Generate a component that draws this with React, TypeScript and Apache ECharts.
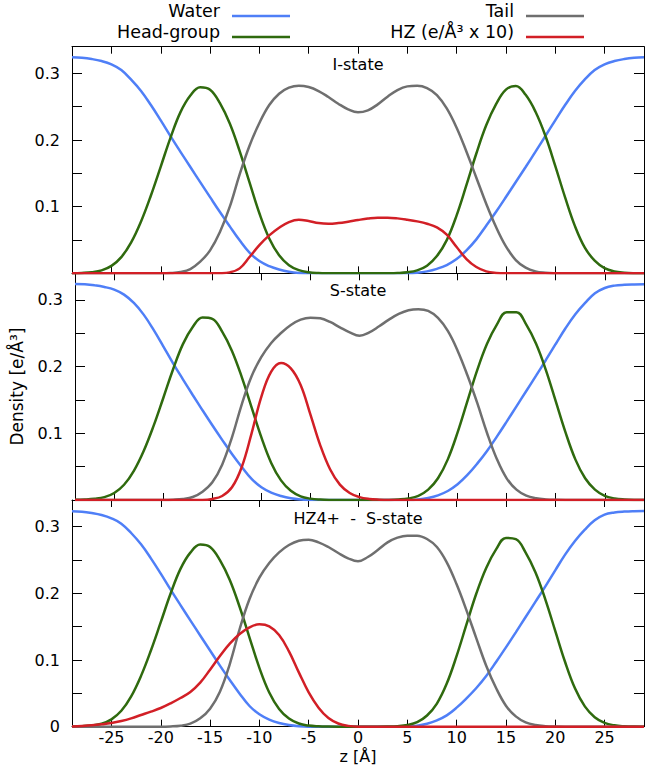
import React, { useEffect, useRef } from "react";
import * as echarts from "echarts";

const FONT = "DejaVu Sans";
const X_TICKS = [-25, -20, -15, -10, -5, 0, 5, 10, 15, 20, 25];
const Y_TICKS = [0.05, 0.1, 0.15, 0.2, 0.25, 0.3];
const Y_LABELS_UPPER = [0.1, 0.2, 0.3];
const Y_LABELS_BOTTOM = [0, 0.1, 0.2, 0.3];
const PANEL_TITLES = ["I-state", "S-state", "HZ4+  -  S-state"];
const SERIES_NAMES = ["Water", "Head-group", "Tail", "HZ (e/Å³ x 10)"];
const COLORS = ["#4f7ff7", "#2f6a0e", "#6f6f6f", "#d21f26"];

// z positions [Å]
const Z = [-29,-28,-27,-26,-25,-24,-23,-22,-21,-20,-19,-18,-17,-16,-15,-14,-13,-12,-11,-10,-9,-8,-7,-6,-5,-4,-3,-2,-1,0,1,2,3,4,5,6,7,8,9,10,11,12,13,14,15,16,17,18,19,20,21,22,23,24,25,26,27,28,29];

// ---- I-state ----
const iWater = [0.324,0.3233,0.3215,0.3185,0.3135,0.305,0.2905,0.2735,0.2525,0.2295, 0.2055,0.1823,0.1595,0.1368,0.1143,0.092,0.0705,0.0495,0.031,0.0185, 0.0108,0.0058,0.0025,0.0007,0,0,0,0,0, 0, 0,0,0,0,0,0.0008,0.003,0.0068,0.0125, 0.0215,0.0345,0.051,0.0715,0.0925,0.1145,0.137,0.1595,0.1825,0.206, 0.2295,0.2525,0.2735,0.291,0.305,0.3135,0.3185,0.3215,0.3233,0.324];
const iHead = [0.0002,0.0007,0.0018,0.0045,0.0112,0.0244,0.0465,0.0778,0.1168,0.1602, 0.2041,0.2419,0.2668,0.2792,0.2755,0.2554,0.2248,0.1834,0.1366,0.0902, 0.0524,0.0272,0.0123,0.0048,0.0017,0.0005,0.0001,0,0, 0, 0,0,0.0001,0.0005,0.0016,0.0045,0.0115,0.0259,0.0498, 0.087,0.1326,0.1798,0.2221,0.2538,0.2757,0.2811,0.2678,0.2424,0.2064, 0.1613,0.114,0.0709,0.0386,0.0191,0.0079,0.0029,0.001,0.0002,0];
const iTail = [0,0,0,0,0,0,0,0,0,0, 0.0004,0.002,0.0065,0.0175,0.0345,0.062,0.1,0.1485,0.1915,0.2255, 0.2525,0.2695,0.2785,0.2815,0.2795,0.2735,0.2645,0.2545,0.246, 0.2415, 0.2445,0.2535,0.265,0.275,0.2805,0.2815,0.278,0.2675,0.2475, 0.2185,0.1825,0.1435,0.1045,0.0695,0.0405,0.02,0.0085,0.003,0.001, 0.0002,0,0,0,0,0,0,0,0,0];
const iHZ = [0,0,0,0,0,0,0,0,0,0, 0,0,0,0,0,0.0002,0.0015,0.0075,0.0245,0.0425, 0.057,0.0685,0.077,0.0805,0.0785,0.0755,0.0745,0.0755,0.0775, 0.08, 0.0822,0.0835,0.0835,0.0825,0.0805,0.078,0.0745,0.069,0.058, 0.0395,0.0215,0.0095,0.003,0.0006,0,0,0,0,0, 0,0,0,0,0,0,0,0,0,0];

// ---- S-state ----
const sWater = [0.324,0.3235,0.322,0.3195,0.3155,0.308,0.2955,0.278,0.2555,0.2305, 0.205,0.181,0.1575,0.1345,0.112,0.0902,0.069,0.0495,0.0315,0.019, 0.011,0.006,0.0026,0.0008,0,0,0,0,0, 0, 0,0,0,0,0,0.0008,0.003,0.007,0.0135, 0.0235,0.0375,0.0545,0.0735,0.095,0.1175,0.1405,0.1635,0.1865,0.21, 0.234,0.2575,0.2785,0.2955,0.31,0.318,0.3215,0.3228,0.3233,0.3235];
const sHead = [0.0002,0.0006,0.0017,0.0042,0.0105,0.0228,0.0437,0.0734,0.1107,0.153, 0.1961,0.2338,0.2595,0.2738,0.2718,0.2525,0.2236,0.1843,0.1389,0.0938, 0.0556,0.0294,0.0138,0.0055,0.002,0.0006,0.0001,0,0, 0, 0,0,0.0001,0.0007,0.0023,0.0062,0.0155,0.0325,0.0609, 0.1014,0.1482,0.1948,0.2343,0.2631,0.2817,0.2817,0.2631,0.2343,0.1948, 0.1482,0.1014,0.0609,0.0325,0.0155,0.0062,0.0023,0.0007,0.0001,0];
const sTail = [0,0,0,0,0,0,0,0,0,0, 0.0004,0.0015,0.0045,0.0125,0.0265,0.053,0.094,0.1435,0.1855,0.2145, 0.2355,0.2505,0.2625,0.2705,0.2735,0.2725,0.267,0.259,0.2515, 0.2465, 0.2515,0.2605,0.2705,0.279,0.2845,0.286,0.2835,0.273,0.2535, 0.224,0.187,0.1455,0.1005,0.0615,0.0325,0.0155,0.0065,0.0025,0.0008, 0.0002,0,0,0,0,0,0,0,0,0];
const sHZ = [0,0,0,0,0,0,0,0,0,0, 0,0,0,0,0.0015,0.006,0.019,0.0495,0.1,0.155, 0.1925,0.2055,0.1975,0.1725,0.128,0.082,0.046,0.023,0.0105, 0.0043, 0.0015,0.0004,0,0,0,0,0,0,0, 0,0,0,0,0,0,0,0,0,0, 0,0,0,0,0,0,0,0,0,0];

// ---- HZ4+ S-state ----
const hWater = [0.323,0.3225,0.3205,0.3175,0.3125,0.3045,0.2905,0.2735,0.2525,0.2295, 0.2055,0.1823,0.1595,0.1368,0.1143,0.0915,0.07,0.0495,0.031,0.0185, 0.0105,0.0055,0.0024,0.0007,0,0,0,0,0, 0, 0,0,0,0,0.0003,0.0015,0.0045,0.0095,0.017, 0.0285,0.0425,0.058,0.076,0.097,0.119,0.1415,0.1645,0.1875,0.2105, 0.2345,0.258,0.2785,0.2955,0.3095,0.318,0.3213,0.3227,0.3233,0.3235];
const hHead = [0.0002,0.0007,0.0018,0.0044,0.011,0.0238,0.0455,0.0762,0.1143,0.1567, 0.1997,0.2367,0.2611,0.2732,0.2696,0.2499,0.22,0.1795,0.1337,0.0882, 0.0512,0.0266,0.0121,0.0047,0.0016,0.0005,0.0001,0,0, 0, 0,0,0.0002,0.0008,0.0025,0.0068,0.0168,0.0347,0.0646, 0.1061,0.1533,0.1997,0.2381,0.2659,0.2831,0.2812,0.2612,0.2313,0.1907, 0.1437,0.097,0.0575,0.0304,0.0142,0.0057,0.002,0.0006,0.0001,0];
const hTail = [0,0,0,0,0,0,0,0,0,0, 0.0004,0.0015,0.0045,0.0125,0.027,0.0525,0.094,0.1465,0.1915,0.2235, 0.2455,0.2615,0.2725,0.279,0.2805,0.2765,0.2695,0.2605,0.2525, 0.248, 0.2545,0.265,0.2765,0.2835,0.2865,0.2865,0.2815,0.2695,0.2465, 0.2135,0.1745,0.1325,0.0915,0.058,0.0315,0.0155,0.0065,0.0025,0.0008, 0.0002,0,0,0,0,0,0,0,0,0];
const hHZ = [0.0003,0.001,0.002,0.0035,0.0055,0.0085,0.0125,0.0175,0.0225,0.028, 0.035,0.043,0.052,0.066,0.0855,0.106,0.1245,0.139,0.149,0.1535, 0.1505,0.1375,0.113,0.0815,0.0515,0.0285,0.013,0.0048,0.0012, 0, 0,0,0,0,0,0,0,0,0, 0,0,0,0,0,0,0,0,0,0, 0,0,0,0,0,0,0,0,0,0];

export default function App() {
  const ref = useRef<HTMLDivElement>(null);
  useEffect(() => {
    if (!ref.current) return;
    const chart = echarts.init(ref.current, null, { renderer: "svg" });
    const panels = [
      [iWater, iHead, iTail, iHZ],
      [sWater, sHead, sTail, sHZ],
      [hWater, hHead, hTail, hHZ],
    ];
    const gridTops = [46.7, 273.3, 500];
    const gridH = 226.67;
    const axisLine = { show: true, onZero: false, lineStyle: { color: "#000", width: 1 } };
    const grids: any[] = [];
    const xAxes: any[] = [];
    const yAxes: any[] = [];
    const series: any[] = [];
    panels.forEach((p, g) => {
      grids.push({ left: 72, width: 572, top: gridTops[g], height: gridH });
      const isBottom = g === 2;
      xAxes.push({
        gridIndex: g, type: "value", min: -29, max: 29, position: "bottom",
        axisLine,
        axisTick: { inside: true, length: 7, customValues: X_TICKS, lineStyle: { color: "#000" } },
        axisLabel: { show: isBottom, customValues: X_TICKS, margin: 3, fontFamily: FONT, fontSize: 16, color: "#000" },
        splitLine: { show: false },
        name: isBottom ? "z [Å]" : "",
        nameLocation: "middle", nameGap: 22,
        nameTextStyle: { fontFamily: FONT, fontSize: 16, color: "#000" },
      });
      xAxes.push({
        gridIndex: g, type: "value", min: -29, max: 29, position: "top",
        axisLine,
        axisTick: { inside: true, length: 7, customValues: X_TICKS, lineStyle: { color: "#000" } },
        axisLabel: { show: false },
        splitLine: { show: false },
      });
      yAxes.push({
        gridIndex: g, type: "value", min: 0, max: 0.34, position: "left",
        axisLine,
        axisTick: { inside: true, length: 10, customValues: Y_TICKS, lineStyle: { color: "#000" } },
        axisLabel: {
          customValues: isBottom ? Y_LABELS_BOTTOM : Y_LABELS_UPPER,
          formatter: (v: number) => String(Math.round(v * 100) / 100),
          margin: 12, fontFamily: FONT, fontSize: 16, color: "#000",
        },
        splitLine: { show: false },
        name: g === 1 ? "Density [e/Å³]" : "",
        nameLocation: "middle", nameGap: 50,
        nameTextStyle: { fontFamily: FONT, fontSize: 17, color: "#000" },
      });
      yAxes.push({
        gridIndex: g, type: "value", min: 0, max: 0.34, position: "right",
        axisLine,
        axisTick: { inside: true, length: 10, customValues: Y_TICKS, lineStyle: { color: "#000" } },
        axisLabel: { show: false },
        splitLine: { show: false },
      });
      p.forEach((vals, k) => {
        series.push({
          type: "line", name: SERIES_NAMES[k],
          data: Z.map((z, i) => [z, vals[i]]),
          xAxisIndex: 2 * g, yAxisIndex: 2 * g,
          smooth: 0.4, symbol: "none", showSymbol: false,
          lineStyle: { color: COLORS[k], width: 2.5 },
          itemStyle: { color: COLORS[k] },
          z: 2 + k,
        });
      });
    });
    const legendBase = {
      align: "right", orient: "horizontal",
      icon: "path://M0 0h0.05v0.05h-0.05z M0 10h58v2.6h-58z",
      itemWidth: 58, itemHeight: 12.6, padding: 0, selectedMode: false,
      textStyle: { fontFamily: FONT, fontSize: 17.5, color: "#000", padding: [0, 7, 0, 0] },
    };
    const option: any = {
      animation: false,
      backgroundColor: "#fff",
      grid: grids,
      xAxis: xAxes,
      yAxis: yAxes,
      series,
      legend: [
        { ...legendBase, data: [SERIES_NAMES[0]], right: 357, top: 2 },
        { ...legendBase, data: [SERIES_NAMES[1]], right: 357, top: 23 },
        { ...legendBase, data: [SERIES_NAMES[2]], right: 63, top: 2 },
        { ...legendBase, data: [SERIES_NAMES[3]], right: 63, top: 23 },
      ],
      title: PANEL_TITLES.map((t, g) => ({
        text: t, left: 358, top: [56, 282, 510][g], textAlign: "center", padding: 0,
        textStyle: { fontFamily: FONT, fontSize: 16, fontWeight: "normal", color: "#000" },
      })),
    };
    chart.setOption(option);
    return () => chart.dispose();
  }, []);
  return <div ref={ref} style={{ position: "absolute", left: 0, top: 0, width: 647, height: 768 }} />;
}
